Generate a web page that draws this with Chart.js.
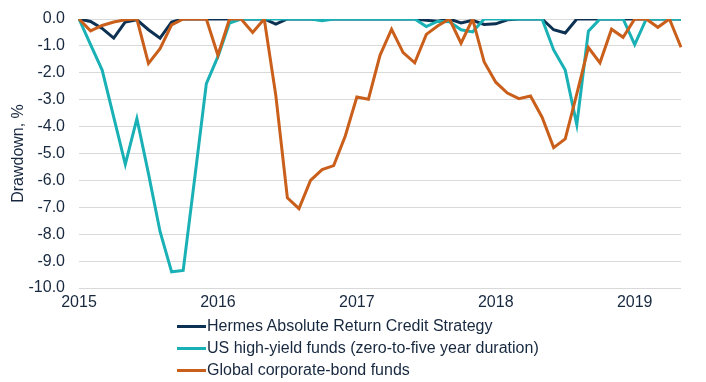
<!DOCTYPE html>
<html>
<head>
<meta charset="utf-8">
<script src="https://cdn.jsdelivr.net/npm/chart.js@4/dist/chart.umd.min.js"></script>
<style>
  html, body { margin: 0; padding: 0; background: #ffffff; }
  #wrap { position: relative; width: 706px; height: 382px; overflow: hidden; }
  #legend { position: absolute; left: 177px; top: 315px; font-family: "Liberation Sans", Arial, sans-serif; font-size: 16px; color: #17283f; }
  .row { display: flex; align-items: center; height: 22px; white-space: nowrap; }
  .swatch { width: 29px; height: 3px; margin-right: 1px; }
</style>
</head>
<body>
<div id="wrap">
  <canvas id="c" width="706" height="382"></canvas>
  <div id="legend"></div>
</div>
<script>
// Monthly categories, Jan 2015 – May 2019
const years = ["2015", "2016", "2017", "2018", "2019"];
const monthNames = ["01","02","03","04","05","06","07","08","09","10","11","12"];
const months = [];
years.forEach(y => monthNames.forEach(m => months.push(y + "-" + m)));
months.length = 53;

const seriesNames = [
  "Hermes Absolute Return Credit Strategy",
  "US high-yield funds (zero-to-five year duration)",
  "Global corporate-bond funds"
];

const hermes = [
  0, -0.09, -0.35, -0.71, -0.11, -0.03, -0.4, -0.71, -0.11, 0, 0, 0,
  0, 0, 0, 0, 0, -0.19, 0, 0, 0, -0.03, 0, 0,
  0, 0, 0, 0, 0, 0, -0.05, -0.08, 0, -0.15, -0.05, -0.2,
  -0.18, -0.03, 0, 0, 0, -0.4, -0.52, 0, 0, 0, 0, 0,
  0, 0, 0, 0, 0
];

const usHighYield = [
  0, -0.95, -1.9, -3.65, -5.4, -3.7, -5.75, -7.9, -9.4, -9.35, -5.9, -2.4,
  -1.4, -0.15, 0, 0, 0, 0, 0, 0, 0, -0.06, 0, 0,
  0, 0, 0, 0, 0, 0, -0.28, -0.08, -0.1, -0.4, -0.48, 0,
  0, 0, 0, 0, 0, -1.15, -1.9, -3.93, -0.45, 0, 0, 0,
  -0.95, 0, 0, 0, 0
];

const globalCorp = [
  0, -0.44, -0.24, -0.11, -0.03, 0, -1.65, -1.1, -0.22, 0, 0, 0,
  -1.35, 0, 0, -0.5, 0, -2.84, -6.65, -7.05, -6.0, -5.6, -5.45, -4.35,
  -2.9, -2.98, -1.35, -0.38, -1.25, -1.63, -0.57, -0.25, 0, -0.9, 0, -1.6,
  -2.35, -2.75, -2.96, -2.86, -3.65, -4.78, -4.46, -2.78, -1.06, -1.63, -0.38, -0.68,
  0, 0, -0.31, 0, -1.05
];

const colors = ["#0d3152", "#19b1b5", "#c95f1a"];
const textColor = "#17283f";
const fontFamily = "'Liberation Sans', Arial, sans-serif";

const seriesData = [hermes, usHighYield, globalCorp];
const datasets = seriesData.map((d, k) => ({
  label: seriesNames[k],
  data: d,
  borderColor: colors[k],
  backgroundColor: colors[k],
  borderWidth: 3,
  pointRadius: 0,
  tension: 0,
  fill: false,
  order: 3 - k
}));

new Chart(document.getElementById("c"), {
  type: "line",
  data: { labels: months, datasets },
  options: {
    responsive: false,
    animation: false,
    devicePixelRatio: 1,
    layout: { padding: { left: 0, top: 19, right: 25, bottom: 64 } },
    plugins: { legend: { display: false }, tooltip: { enabled: false } },
    scales: {
      x: {
        type: "category",
        offset: false,
        grid: { display: false, drawTicks: false },
        border: { display: false },
        ticks: {
          autoSkip: false,
          maxRotation: 0,
          padding: 5,
          color: textColor,
          font: { family: fontFamily, size: 16 },
          callback: function (val, idx) {
            const lbl = months[idx];
            return idx % 12 === 0 ? lbl.slice(0, 4) : "";
          }
        },
        afterFit: s => { s.height = 30; s.paddingLeft = 0; s.paddingRight = 0; }
      },
      y: {
        min: -10,
        max: 0,
        grid: { color: "#d9d9d9", lineWidth: 1, drawTicks: false },
        border: { display: false },
        ticks: {
          stepSize: 1,
          padding: 14,
          color: textColor,
          font: { family: fontFamily, size: 16 },
          callback: v => v.toFixed(1)
        },
        title: {
          display: true,
          text: "Drawdown, %",
          color: textColor,
          font: { family: fontFamily, size: 16 },
          padding: { top: 9, bottom: 0 }
        },
        afterFit: s => { s.width = 79; s.paddingTop = 0; s.paddingBottom = 0; }
      }
    }
  }
});

const legend = document.getElementById("legend");
seriesNames.forEach((name, k) => {
  const row = document.createElement("div");
  row.className = "row";
  const sw = document.createElement("span");
  sw.className = "swatch";
  sw.style.background = colors[k];
  const tx = document.createElement("span");
  tx.textContent = name;
  row.appendChild(sw);
  row.appendChild(tx);
  legend.appendChild(row);
});
</script>
</body>
</html>
